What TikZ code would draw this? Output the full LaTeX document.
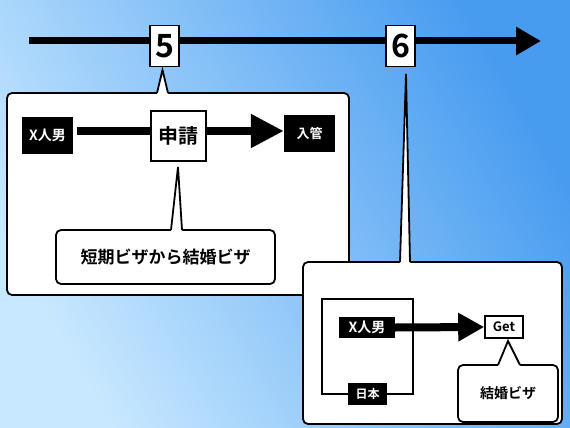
\documentclass[tikz,border=0pt]{standalone}
\usepackage{fontspec}
\setmainfont{Noto Sans CJK JP}[BoldFont={Noto Sans CJK JP Bold}]
\usetikzlibrary{arrows.meta}
\definecolor{bgdark}{RGB}{72,156,240}
\definecolor{bglight}{RGB}{200,232,255}
\newcommand\mypointer[4]{%
  \fill[white] #1 -- (#2,#4) -- (#2,#4+2) -- (#3,#4+2) -- (#3,#4) -- cycle;
  \draw[line width=1.8pt, line join=miter] (#2,#4) -- #1 -- (#3,#4);}
\begin{document}
\begin{tikzpicture}[x=1pt,y=-1pt,
  callout/.style={draw=black,fill=white,line width=1.8pt,rounded corners=5pt,inner sep=0pt},
  numbox/.style={draw=black,fill=white,line width=1.5pt,inner sep=0pt,minimum width=29pt,minimum height=41pt,font=\bfseries\fontsize{32}{32}\selectfont},
  blackbox/.style={fill=black,text=white,inner sep=0pt},
  whitebox/.style={draw=black,fill=white,line width=1.6pt,inner sep=0pt},
  bigarrow/.style={line width=8pt,-{Triangle[length=33pt,width=32pt]}},
  midarrow/.style={line width=8pt,-{Triangle[length=26pt,width=27pt]}}
]
\useasboundingbox (0,0) rectangle (570,428);
\shade[top color=bgdark,bottom color=bglight,shading angle=-60] (0,0) rectangle (570,428);

% timeline
\coordinate (ts) at (29,41);
\coordinate (te) at (541,41);
\draw[line width=7pt,-{Triangle[length=25pt,width=27pt]}] (ts) -- (te);
\node[numbox] (n5) at (164.5,46) {5};
\node[numbox] (n6) at (400.5,46) {6};

% callout 1
\node[callout,minimum width=342pt,minimum height=202pt] (c1) at (178,194) {};
\coordinate (p5) at (162.5,70);
\mypointer{(p5)}{157}{168}{93}
\node[blackbox,minimum width=51pt,minimum height=37pt,font=\bfseries\fontsize{14}{14}\selectfont] (xm1) at (47.5,135.5) {X人男};
\node[blackbox,minimum width=51pt,minimum height=37pt,font=\bfseries\fontsize{13}{13}\selectfont] (nk) at (309.5,133.5) {入管};
\draw[bigarrow] ([shift={(4,-4.5)}]xm1.east) -- ([shift={(0,-2.5)}]nk.west);
\node[whitebox,line width=1.8pt,minimum width=55pt,minimum height=50pt,font=\bfseries\fontsize{20}{20}\selectfont] (sh) at (178.5,136) {申請};
\node[callout,minimum width=219pt,minimum height=54pt,font=\bfseries\fontsize{17}{17}\selectfont] (tk) at (165.5,257) {短期ビザから結婚ビザ};
\coordinate (p1) at (178,167);
\mypointer{(p1)}{171}{182}{230}

% callout 2
\node[callout,minimum width=259pt,minimum height=162pt] (c2) at (432.5,343) {};
\coordinate (p6) at (406,74);
\mypointer{(p6)}{400}{410}{262}
\draw[line width=1.8pt] (322,299) rectangle (413,394);
\node[blackbox,minimum width=56pt,minimum height=21pt,font=\bfseries\fontsize{14}{14}\selectfont] (xm2) at (367,327.5) {X人男};
\node[whitebox,minimum width=38pt,minimum height=22pt,font=\bfseries\fontsize{13}{13}\selectfont] (get) at (504,327) {Get};
\draw[midarrow] (xm2.east) -- (get.west);
\node[blackbox,minimum width=39pt,minimum height=22pt,font=\bfseries\fontsize{12}{12}\selectfont] (nh) at (367.5,394) {日本};
\node[callout,minimum width=100pt,minimum height=57pt,font=\bfseries\fontsize{14}{14}\selectfont] (kb) at (508,393.5) {結婚ビザ};
\coordinate (p2) at (508,341);
\mypointer{(p2)}{498}{520}{365}
\end{tikzpicture}
\end{document}
